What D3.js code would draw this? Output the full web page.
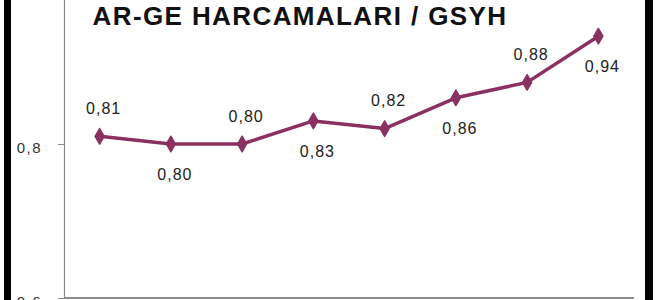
<!DOCTYPE html>
<html>
<head>
<meta charset="utf-8">
<script src="https://cdn.jsdelivr.net/npm/d3@7"></script>
<style>
  html, body { margin: 0; padding: 0; background: #fff; }
  svg { display: block; }
</style>
</head>
<body>
<script>
var title = "AR-GE HARCAMALARI / GSYH";
var categories = ["1", "2", "3", "4", "5", "6", "7", "8"];
var values = [0.81, 0.80, 0.80, 0.83, 0.82, 0.86, 0.88, 0.94];
var valueLabels = ["0,81", "0,80", "0,80", "0,83", "0,82", "0,86", "0,88", "0,94"];
var tickValues = [0.6, 0.8, 1.0];
var tickLabels = ["0,6", "0,8", "1"];

var width = 660, height = 300;
var plotLeft = 64, plotRight = 634, plotTop = -10, plotBottom = 298;
var lineColor = "#8a3162";

var svg = d3.select("body").append("svg")
  .attr("width", width).attr("height", height);

svg.append("rect").attr("width", width).attr("height", height).attr("fill", "#fff");

var x = d3.scalePoint().domain(categories).range([plotLeft, plotRight]).padding(0.5);
var y = d3.scaleLinear().domain([0.6, 1.0]).range([plotBottom, plotTop]);

// y axis
var yAxis = d3.axisLeft(y)
  .tickValues(tickValues)
  .tickSize(6)
  .tickFormat(function(d, i) { return tickLabels[i]; });

var gy = svg.append("g").attr("transform", "translate(" + plotLeft + ",0)").call(yAxis);
gy.select(".domain").attr("stroke", "#8c8c8c").attr("stroke-width", 1.2);
gy.selectAll(".tick line").attr("stroke", "#8c8c8c");
gy.selectAll(".tick text")
  .attr("x", -22)
  .attr("dy", "0.55em")
  .attr("fill", "#333")
  .style("font-family", "Liberation Sans, Arial, sans-serif")
  .style("font-size", "15px")
  .style("letter-spacing", "1.5px");

// x axis line
svg.append("line")
  .attr("x1", plotLeft).attr("x2", plotRight)
  .attr("y1", y(0.6)).attr("y2", y(0.6))
  .attr("stroke", "#8c8c8c").attr("stroke-width", 2);

// title
svg.append("text")
  .attr("x", 300).attr("y", 25)
  .attr("text-anchor", "middle")
  .attr("fill", "#111")
  .style("font-family", "Liberation Sans, Arial, sans-serif")
  .style("font-weight", "bold")
  .style("font-size", "26px")
  .style("letter-spacing", "1.4px")
  .text(title);

// line
var line = d3.line()
  .x(function(d, i) { return x(categories[i]); })
  .y(function(d) { return y(d); });

svg.append("path").datum(values)
  .attr("d", line)
  .attr("fill", "none")
  .attr("stroke", lineColor)
  .attr("stroke-width", 3.5)
  .attr("stroke-linejoin", "round");

svg.selectAll(".pt").data(values).enter().append("path")
  .attr("class", "pt")
  .attr("d", d3.symbol().type(d3.symbolDiamond).size(70))
  .attr("transform", function(d, i) { return "translate(" + x(categories[i]) + "," + y(d) + ")"; })
  .attr("fill", lineColor)
  .attr("stroke", lineColor)
  .attr("stroke-width", 1.5)
  .attr("stroke-linejoin", "round");

// value labels, alternating above / below
svg.selectAll(".lbl").data(values).enter().append("text")
  .attr("class", "lbl")
  .attr("x", function(d, i) { return x(categories[i]) + 4; })
  .attr("y", function(d, i) { return y(d) + (i % 2 === 0 ? -28 : 30); })
  .attr("dy", "0.36em")
  .attr("text-anchor", "middle")
  .attr("fill", "#222")
  .style("font-family", "Liberation Sans, Arial, sans-serif")
  .style("font-size", "16px")
  .style("letter-spacing", "1px")
  .text(function(d, i) { return valueLabels[i]; });

// black frame bars
svg.append("rect").attr("x", 4).attr("y", 0).attr("width", 7).attr("height", height).attr("fill", "#000");
svg.append("rect").attr("x", 645).attr("y", 0).attr("width", 8).attr("height", height).attr("fill", "#000");
</script>
</body>
</html>
